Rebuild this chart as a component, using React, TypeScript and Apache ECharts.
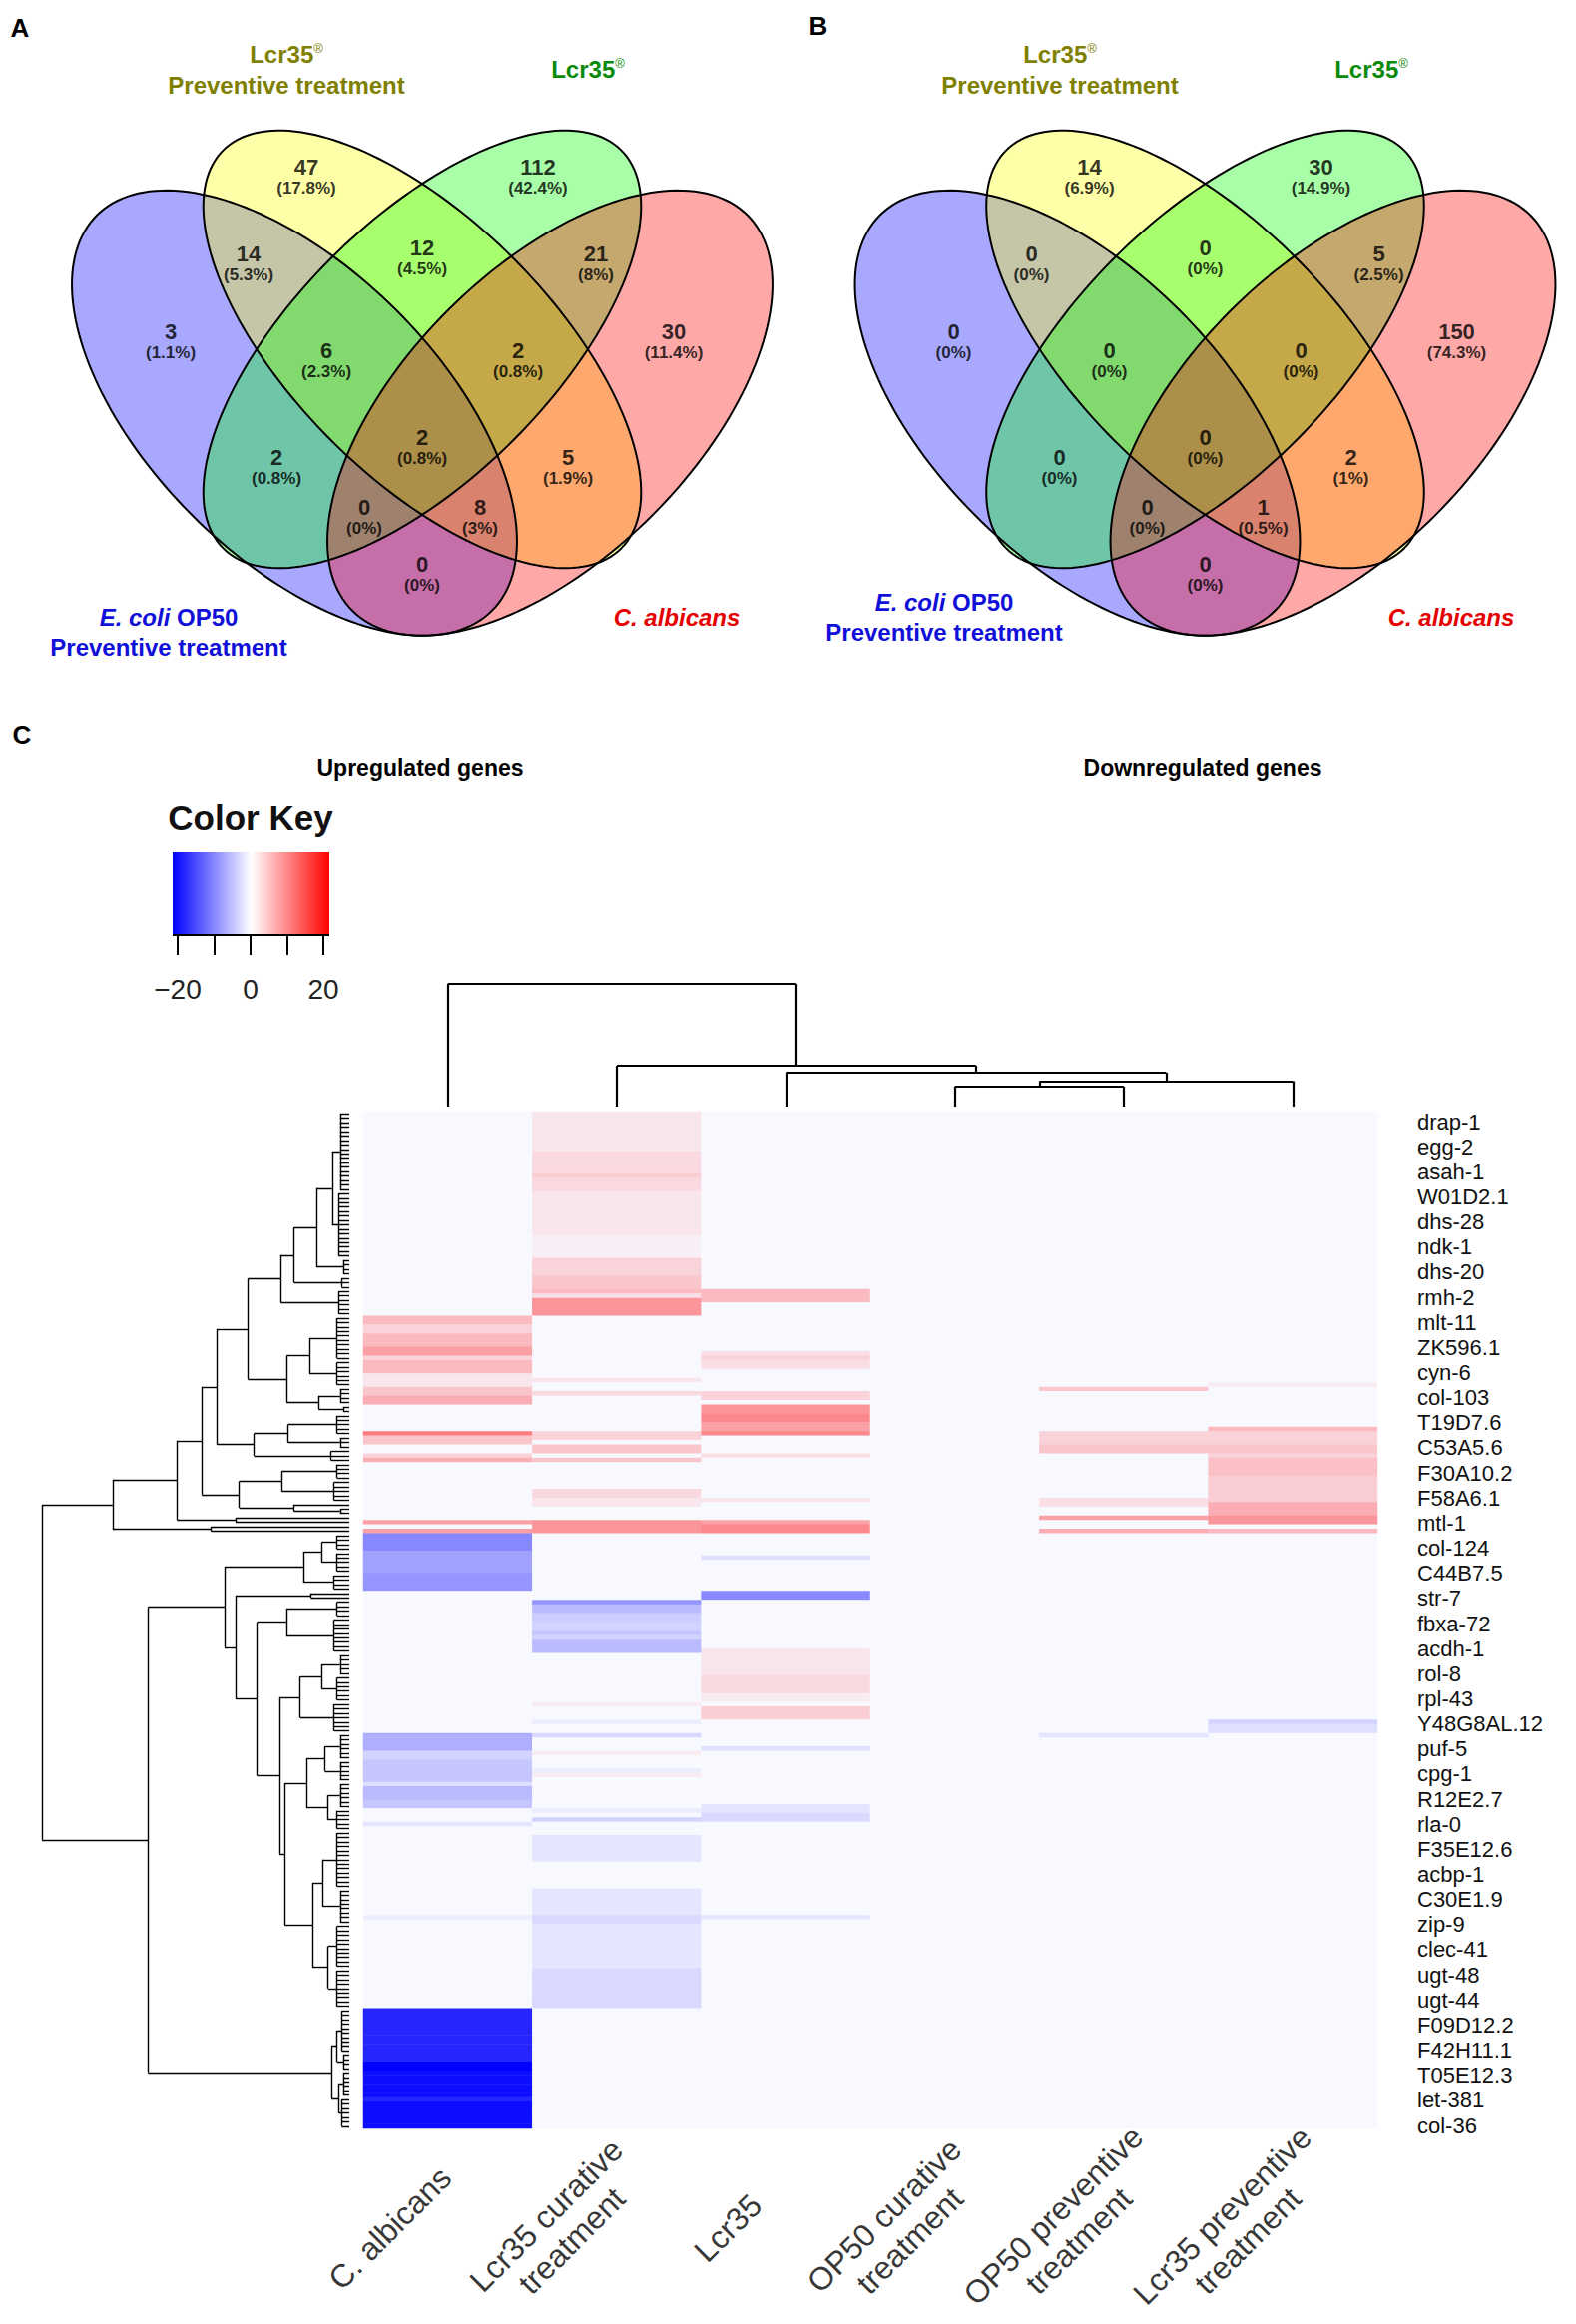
import React, { useEffect, useRef } from "react";
import * as echarts from "echarts";

const FONT = "'Liberation Sans', Arial, Helvetica, sans-serif";

// ---------------- Panels A & B : Venn diagrams ----------------
const vennSetNames = ["E. coli OP50 Preventive treatment", "Lcr35 Preventive treatment", "Lcr35", "C. albicans"];
const vennRegionNames = [
  "Lcr35 prev. only", "Lcr35 only", "OP50 + Lcr35 prev.", "Lcr35 prev. + Lcr35", "Lcr35 + C. albicans",
  "OP50 only", "OP50 + Lcr35 prev. + Lcr35", "Lcr35 prev. + Lcr35 + C. albicans", "C. albicans only", "all four",
  "OP50 + Lcr35", "Lcr35 prev. + C. albicans", "OP50 + Lcr35 + C. albicans", "OP50 + Lcr35 prev. + C. albicans", "OP50 + C. albicans",
];
const upregulatedCounts = [47, 112, 14, 12, 21, 3, 6, 2, 30, 2, 2, 5, 0, 8, 0];
const downregulatedCounts = [14, 30, 0, 0, 5, 0, 0, 0, 150, 0, 0, 2, 0, 1, 0];

// ---------------- Panel C : heatmap ----------------
const conditions = [
  "C. albicans",
  "Lcr35 curative\ntreatment",
  "Lcr35",
  "OP50 curative\ntreatment",
  "OP50 preventive\ntreatment",
  "Lcr35 preventive\ntreatment",
];
const geneLabels = [
  "drap-1", "egg-2", "asah-1", "W01D2.1", "dhs-28", "ndk-1", "dhs-20", "rmh-2", "mlt-11", "ZK596.1",
  "cyn-6", "col-103", "T19D7.6", "C53A5.6", "F30A10.2", "F58A6.1", "mtl-1", "col-124", "C44B7.5", "str-7",
  "fbxa-72", "acdh-1", "rol-8", "rpl-43", "Y48G8AL.12", "puf-5", "cpg-1", "R12E2.7", "rla-0", "F35E12.6",
  "acbp-1", "C30E1.9", "zip-9", "clec-41", "ugt-48", "ugt-44", "F09D12.2", "F42H11.1", "T05E12.3", "let-381", "col-36",
];
const colorKeyTicks = [-20, -10, 0, 10, 20];
const colorKeyLabels = ["\u221220", "", "0", "", "20"];
const N_ROWS = 229;

// fold-change bands per condition, rows in dendrogram order: [firstRow, endRow(excl.), value]
const cAlbicansBands = [
  [46, 48, 5], [48, 50, 3], [50, 53, 5], [53, 55, 7], [55, 56, 3], [56, 59, 5], [59, 62, 1.5], [62, 64, 4], [64, 66, 6],
  [72, 73, 10], [73, 75, 4], [77, 78, 3], [78, 79, 6], [92, 93, 7], [94, 95, 7],
  [95, 99, -9], [99, 104, -7], [104, 108, -8],
  [140, 144, -6], [144, 146, -3], [146, 151, -4], [151, 152, -2], [152, 155, -5], [155, 157, -4], [160, 161, -1.5],
  [181, 182, -1], [202, 214, -17], [214, 216, -20], [216, 222, -19], [222, 223, -17], [223, 229, -19],
];
const lcr35CurativeBands = [
  [0, 9, 1.5], [9, 14, 2.5], [14, 15, 3.5], [15, 18, 2.5], [18, 28, 1.5], [28, 33, 0.7], [33, 37, 3], [37, 40, 4],
  [40, 41, 5], [41, 42, 2], [42, 46, 8], [60, 61, 1.5], [63, 64, 2.5], [72, 74, 3], [75, 77, 4], [78, 79, 4],
  [85, 87, 2.5], [87, 89, 1.5], [92, 95, 8], [110, 111, -8], [111, 113, -5], [113, 115, -3.5], [115, 117, -3],
  [117, 118, -4], [118, 119, -3], [119, 122, -5], [133, 134, 1], [137, 138, -1], [140, 141, -2.5], [144, 145, 1],
  [148, 149, -1], [149, 150, 1], [157, 158, -1], [159, 160, -3], [163, 169, -1.5], [175, 181, -1.5], [181, 183, -2.5],
  [183, 193, -1.5], [193, 202, -2.5],
];
const lcr35Bands = [
  [40, 43, 5], [54, 55, 2], [55, 56, 3], [56, 58, 2], [63, 65, 3], [66, 68, 8], [68, 70, 9], [70, 72, 7], [72, 73, 9],
  [77, 78, 2], [87, 88, 1.5], [92, 93, 7], [93, 95, 9], [100, 101, -2], [108, 110, -9], [121, 127, 1.5],
  [127, 131, 2.5], [131, 133, 1], [134, 137, 3.5], [143, 144, -2], [156, 158, -1.5], [158, 160, -2.5], [181, 182, -1.5],
];
const op50CurativeBands: number[][] = [];
const op50PreventiveBands = [[62, 63, 4], [72, 75, 3], [75, 77, 4], [87, 89, 2], [91, 92, 7], [94, 95, 6], [140, 141, -1.5]];
const lcr35PreventiveBands = [
  [61, 62, 1], [71, 72, 5], [72, 75, 3], [75, 77, 4], [77, 78, 3], [78, 82, 4.5], [82, 88, 3.5], [88, 91, 6],
  [91, 93, 8], [94, 95, 5], [137, 138, -3], [138, 140, -2],
];
const conditionBands = [cAlbicansBands, lcr35CurativeBands, lcr35Bands, op50CurativeBands, op50PreventiveBands, lcr35PreventiveBands];

// column dendrogram (hclust style merges, negative = leaf)
const colMerge = [[-4, -5], [1, -6], [-3, 2], [-2, 3], [-1, 4]];
const colMergeHeight = [20, 25.5, 34, 41, 123];

// row dendrogram: N(height, a, b), G(firstRow, endRow, height of leaf group)
type TNode = { h: number; c?: TNode[]; g?: [number, number] };
const G = (s: number, e: number, h = 0): TNode => ({ g: [s, e], h });
const N = (h: number, a: TNode, b: TNode): TNode => ({ h, c: [a, b] });
const rowTree = N(100,
  N(77,
    N(56,
      N(48,
        N(43,
          N(33,
            N(22.3,
              N(18, N(10.7, N(5.6, G(0, 18, 3), G(18, 33, 3.5)), G(33, 37, 2)), G(37, 40, 2.5)),
              G(40, 46, 3.5)),
            N(20.4, N(13, G(46, 56, 4), G(56, 62, 4)), N(10, G(62, 66, 3), G(66, 68, 2)))),
          N(31, N(20, G(68, 73, 4), G(73, 76, 3)), G(76, 79, 6))),
        N(35.8, N(22, G(79, 83, 4), G(83, 88, 5)), N(18, G(88, 89), G(89, 91, 3)))),
      N(37, G(91, 92), G(92, 93))),
    N(45, G(93, 94), G(94, 95))),
  N(65.5,
    N(40.6,
      N(15, N(9, G(95, 99, 4), G(99, 104, 4)), G(104, 108, 5)),
      N(37,
        N(12.5, G(108, 109), G(109, 110)),
        N(30,
          N(20.5, G(110, 114, 4), G(114, 122, 5)),
          N(22.7,
            N(16, N(9, G(122, 127, 3), G(127, 133, 4)), G(133, 140, 5)),
            N(21,
              N(14, N(8, G(140, 146, 3), G(146, 151, 3)), N(7, G(151, 157, 3), G(157, 162, 4))),
              N(12, N(8.7, G(162, 175, 4), G(175, 183, 3)), N(6.9, G(183, 193, 4), G(193, 202, 4)))))))),
    N(5.8, N(4, G(202, 212, 2.5), G(212, 216, 2)), N(3.5, G(216, 222, 2), G(222, 229, 2.5)))));

// ---------------- layout (positions / styles) ----------------
const VENN_W = 790, VENN_H = 700, VENN_B_SHIFT = 784.5;
const vennEllipses = [ // cx, cy, semi-major, semi-minor, angle(deg, screen) in panel pixels
  [295, 413.8, 280, 145, 45],
  [423, 350, 282, 129, 45],
  [423, 350, 282, 129, 135],
  [551, 413.8, 280, 145, 135],
];
const vennFills = ["rgba(0,0,255,0.34)", "rgba(255,255,0,0.34)", "rgba(0,255,0,0.34)", "rgba(255,0,0,0.34)"];
const vennLabelPos = [
  [307, 177], [539, 177], [249, 264], [423, 258], [597, 264], [171, 342], [327, 361], [519, 361], [675, 342],
  [423, 448], [277, 468], [569, 468], [365, 518], [481, 518], [423, 575],
];
const HM = { left: 364, top: 1114, width: 1016, height: 1019 };

function pctText(c: number, total: number) {
  const v = Math.round((c / total) * 1000) / 10;
  return `(${v}%)`;
}

function layoutTree(n: TNode, segs: number[][]): { pos: number; h: number } {
  if (n.g) {
    const [s, e] = n.g;
    if (e - s === 1) return { pos: s + 0.5, h: 0 };
    for (let r = s; r < e; r++) segs.push([r + 0.5, 0, r + 0.5, n.h]);
    segs.push([s + 0.5, n.h, e - 0.5, n.h]);
    return { pos: (s + e) / 2, h: n.h };
  }
  const kids = (n.c || []).map((k) => layoutTree(k, segs));
  const p0 = kids[0].pos, p1 = kids[kids.length - 1].pos;
  segs.push([p0, n.h, p1, n.h]);
  kids.forEach((k) => segs.push([k.pos, k.h, k.pos, n.h]));
  return { pos: (p0 + p1) / 2, h: n.h };
}

function fromMerge(i: number): TNode {
  const [a, b] = colMerge[i - 1];
  const conv = (k: number): TNode => (k < 0 ? G(-k - 1, -k) : fromMerge(k));
  return { h: colMergeHeight[i - 1], c: [conv(a), conv(b)] };
}

function ellipsePoints(api: any) {
  const cx = api.value(0), cy = api.value(1), a = api.value(2), b = api.value(3);
  const ang = (api.value(4) * Math.PI) / 180;
  const pts: number[][] = [];
  for (let k = 0; k <= 180; k++) {
    const t = (k / 180) * Math.PI * 2;
    const lx = a * Math.cos(t), ly = b * Math.sin(t);
    pts.push(api.coord([cx + lx * Math.cos(ang) - ly * Math.sin(ang), cy + lx * Math.sin(ang) + ly * Math.cos(ang)]));
  }
  return pts;
}

function vennSeries(idx: number, counts: number[]) {
  const total = counts.reduce((a, b) => a + b, 0);
  const ell = vennEllipses.map((e) => e.slice());
  return [
    {
      type: "custom", xAxisIndex: idx, yAxisIndex: idx, data: ell, silent: true, clip: false, z: 1,
      renderItem: (p: any, api: any) => ({
        type: "polygon", shape: { points: ellipsePoints(api) }, style: { fill: vennFills[p.dataIndex], stroke: "none" },
      }),
    },
    {
      type: "custom", xAxisIndex: idx, yAxisIndex: idx, data: ell, silent: true, clip: false, z: 2,
      renderItem: (_p: any, api: any) => ({
        type: "polygon", shape: { points: ellipsePoints(api) }, style: { fill: "none", stroke: "#000", lineWidth: 2 },
      }),
    },
    {
      type: "scatter", xAxisIndex: idx, yAxisIndex: idx, symbolSize: 0, silent: true, z: 3,
      data: counts.map((c, i) => ({ name: vennRegionNames[i], value: [vennLabelPos[i][0], vennLabelPos[i][1], c] })),
      label: {
        show: true, position: "inside",
        formatter: (p: any) => `{n|${p.value[2]}}\n{p|${pctText(p.value[2], total)}}`,
        rich: {
          n: { fontSize: 22, fontWeight: "bold", fontFamily: FONT, color: "#000", lineHeight: 22 },
          p: { fontSize: 17, fontWeight: "bold", fontFamily: FONT, color: "#000", lineHeight: 19 },
        },
      },
    },
  ];
}

function txt(x: number, y: number, text: string, fill: string, size: number, extra: any = {}) {
  return {
    type: "text", x, y, silent: true,
    style: { text, fill, fontSize: size, fontWeight: "bold", fontFamily: FONT, align: "center", verticalAlign: "middle", ...extra },
  };
}
function supRich(fill: string) {
  return {
    rich: {
      m: { fontSize: 24, fontWeight: "bold", fontFamily: FONT, fill },
      s: { fontSize: 13, fontFamily: FONT, fill, verticalAlign: "top" },
    },
  };
}
function ecoliRich(fill: string) {
  return {
    rich: {
      i: { fontSize: 24, fontWeight: "bold", fontStyle: "italic", fontFamily: FONT, fill },
      m: { fontSize: 24, fontWeight: "bold", fontFamily: FONT, fill },
    },
  };
}

function buildOption() {
  const olive = "#808000", green = "#0a8a0a", blue = "#1010d8", red = "#e60000";
  const heatData: number[][] = [];
  conditionBands.forEach((bands, c) => {
    const vals = new Array(N_ROWS).fill(0);
    bands.forEach(([s, e, v]) => { for (let r = s; r < e; r++) vals[r] = v; });
    vals.forEach((v, r) => heatData.push([c, r, v]));
  });
  const rowSegs: number[][] = [];
  layoutTree(rowTree, rowSegs);
  const colSegs: number[][] = [];
  layoutTree(fromMerge(colMerge.length), colSegs);

  const hid = { show: false };
  const graphic: any[] = [
    txt(20, 28, "A", "#000", 26),
    txt(820, 26, "B", "#000", 26),
    txt(22, 737, "C", "#000", 26),
    txt(287, 54, "{m|Lcr35}{s|\u00ae}", olive, 24, supRich(olive)),
    txt(287, 85, "Preventive treatment", olive, 24),
    txt(589, 69, "{m|Lcr35}{s|\u00ae}", green, 24, supRich(green)),
    txt(169, 618, "{i|E. coli}{m| OP50}", blue, 24, ecoliRich(blue)),
    txt(169, 648, "Preventive treatment", blue, 24),
    txt(678, 618, "C. albicans", red, 24, { fontStyle: "italic" }),
    txt(1062, 54, "{m|Lcr35}{s|\u00ae}", olive, 24, supRich(olive)),
    txt(1062, 85, "Preventive treatment", olive, 24),
    txt(1374, 69, "{m|Lcr35}{s|\u00ae}", green, 24, supRich(green)),
    txt(946, 603, "{i|E. coli}{m| OP50}", blue, 24, ecoliRich(blue)),
    txt(946, 633, "Preventive treatment", blue, 24),
    txt(1454, 618, "C. albicans", red, 24, { fontStyle: "italic" }),
    txt(421, 770, "Upregulated genes", "#000", 23),
    txt(1205, 770, "Downregulated genes", "#000", 23),
    txt(251, 819, "Color Key", "#111", 35),
    {
      type: "rect", silent: true, shape: { x: 173, y: 854, width: 157, height: 83 },
      style: {
        fill: {
          type: "linear", x: 0, y: 0, x2: 1, y2: 0,
          colorStops: [{ offset: 0, color: "#0000ff" }, { offset: 0.5, color: "#ffffff" }, { offset: 1, color: "#ff0000" }],
        },
      },
    },
    { type: "line", silent: true, shape: { x1: 173, y1: 937, x2: 330, y2: 937 }, style: { stroke: "#000", lineWidth: 2 } },
  ];

  return {
    animation: false,
    backgroundColor: "#ffffff",
    grid: [
      { left: 0, top: 0, width: VENN_W, height: VENN_H },
      { left: VENN_B_SHIFT, top: 0, width: VENN_W, height: VENN_H },
      { left: 178, top: 854, width: 146, height: 83 },
      { left: HM.left, top: 986, width: HM.width, height: 123 },
      { left: 42, top: HM.top, width: 308, height: HM.height },
      { left: HM.left, top: HM.top, width: HM.width, height: HM.height },
      { left: 1370, top: 1124, width: 10, height: 1006 },
      { left: HM.left - 58, top: HM.top + HM.height, width: HM.width, height: 100 },
    ],
    xAxis: [
      { gridIndex: 0, type: "value", min: 0, max: VENN_W, ...hid },
      { gridIndex: 1, type: "value", min: 0, max: VENN_W, ...hid },
      {
        gridIndex: 2, type: "value", min: -20, max: 20, interval: 10,
        axisLine: { show: false }, splitLine: { show: false },
        axisTick: { show: true, length: 20, lineStyle: { color: "#000", width: 2 } },
        axisLabel: {
          margin: 40, fontSize: 28, fontFamily: FONT, color: "#222",
          formatter: (v: number) => colorKeyLabels[colorKeyTicks.indexOf(v)] ?? "",
        },
      },
      { gridIndex: 3, type: "value", min: 0, max: 6, ...hid },
      { gridIndex: 4, type: "value", min: 0, max: 100, inverse: true, ...hid },
      { gridIndex: 5, type: "category", data: conditions, ...hid },
      { gridIndex: 6, type: "value", ...hid },
      { gridIndex: 7, type: "category", data: conditions, ...hid },
    ],
    yAxis: [
      { gridIndex: 0, type: "value", min: 0, max: VENN_H, inverse: true, ...hid },
      { gridIndex: 1, type: "value", min: 0, max: VENN_H, inverse: true, ...hid },
      { gridIndex: 2, type: "value", ...hid },
      { gridIndex: 3, type: "value", min: 0, max: 123, ...hid },
      { gridIndex: 4, type: "value", min: 0, max: N_ROWS, inverse: true, ...hid },
      { gridIndex: 5, type: "category", data: Array.from({ length: N_ROWS }, (_, i) => String(i)), inverse: true, ...hid },
      {
        gridIndex: 6, type: "category", data: geneLabels, inverse: true, boundaryGap: false, position: "right",
        axisLine: { show: false }, axisTick: { show: false },
        axisLabel: { interval: 0, margin: 40, fontSize: 22, lineHeight: 22, fontFamily: FONT, color: "#111" },
      },
      { gridIndex: 7, type: "value", min: 0, max: 1, ...hid },
    ],
    visualMap: {
      type: "continuous", show: false, min: -20, max: 20, dimension: 2, seriesIndex: 8,
      inRange: { color: ["#0000ff", "#f8f8ff", "#ff0000"] },
    },
    graphic,
    series: [
      ...vennSeries(0, upregulatedCounts),
      ...vennSeries(1, downregulatedCounts),
      {
        type: "lines", coordinateSystem: "cartesian2d", xAxisIndex: 3, yAxisIndex: 3, silent: true,
        lineStyle: { color: "#000", width: 2.2, opacity: 1 },
        data: colSegs.map(([p1, h1, p2, h2]) => ({ coords: [[p1, h1], [p2, h2]] })),
      },
      {
        type: "lines", coordinateSystem: "cartesian2d", xAxisIndex: 4, yAxisIndex: 4, silent: true,
        lineStyle: { color: "#000", width: 1.4, opacity: 1 },
        data: rowSegs.map(([p1, h1, p2, h2]) => ({ coords: [[h1, p1], [h2, p2]] })),
      },
      {
        type: "heatmap", xAxisIndex: 5, yAxisIndex: 5, data: heatData, silent: true, progressive: 0,
        itemStyle: { borderWidth: 0 }, emphasis: { disabled: true },
      },
      {
        type: "scatter", xAxisIndex: 7, yAxisIndex: 7, symbolSize: 0, silent: true,
        data: conditions.map((c, i) => ({ name: c, value: [i, 0] })),
        label: {
          show: true, position: "inside", rotate: 45, formatter: "{b}", align: "center", verticalAlign: "middle",
          fontSize: 32, lineHeight: 36, fontFamily: FONT, color: "#000",
        },
      },
    ],
  };
}

export default function App() {
  const ref = useRef<HTMLDivElement>(null);
  useEffect(() => {
    document.body.style.margin = "0";
    const chart = echarts.init(ref.current as HTMLDivElement, null, { renderer: "svg" });
    chart.setOption(buildOption() as any);
    return () => chart.dispose();
  }, []);
  return <div ref={ref} style={{ width: 1579, height: 2329, background: "#fff" }} />;
}
